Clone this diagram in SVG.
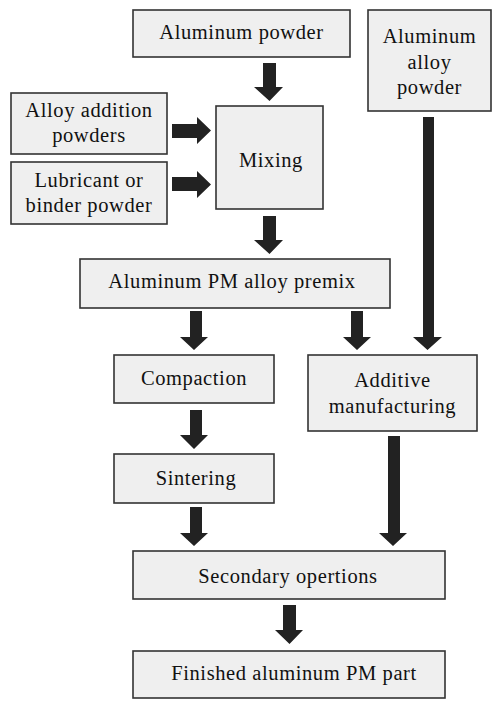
<svg xmlns="http://www.w3.org/2000/svg" width="504" height="706" viewBox="0 0 504 706">
<style>
.box{fill:#efefef;stroke:#333;stroke-width:1.6}
.t{font-family:"Liberation Serif","Times New Roman",serif;font-size:20.5px;letter-spacing:0.6px;fill:#111;text-anchor:middle}
.arr{fill:#222}
</style>
<rect width="504" height="706" fill="#fff"/>
<g id="n-al-powder"><rect class="box" x="133" y="10" width="217" height="47"/><text class="t" x="241.5" y="38.5">Aluminum powder</text></g>
<g id="n-al-alloy-powder"><rect class="box" x="368" y="10" width="123" height="101"/><text class="t" x="429.5" y="43">Aluminum</text><text class="t" x="429.5" y="68.5">alloy</text><text class="t" x="429.5" y="94">powder</text></g>
<g id="n-alloy-addition"><rect class="box" x="11" y="93" width="156" height="61"/><text class="t" x="89" y="117">Alloy addition</text><text class="t" x="89" y="142">powders</text></g>
<g id="n-lubricant"><rect class="box" x="11" y="162" width="156" height="62"/><text class="t" x="89" y="187">Lubricant or</text><text class="t" x="89" y="212">binder powder</text></g>
<g id="n-mixing"><rect class="box" x="216" y="106" width="107" height="103"/><text class="t" x="271" y="167">Mixing</text></g>
<g id="n-premix"><rect class="box" x="80" y="259" width="310" height="49"/><text class="t" x="232" y="288">Aluminum PM alloy premix</text></g>
<g id="n-compaction"><rect class="box" x="114" y="355" width="160" height="48"/><text class="t" x="194" y="385">Compaction</text></g>
<g id="n-additive"><rect class="box" x="308" y="355" width="169" height="76"/><text class="t" x="392.5" y="387">Additive</text><text class="t" x="392.5" y="413">manufacturing</text></g>
<g id="n-sintering"><rect class="box" x="114" y="454" width="160" height="49"/><text class="t" x="196" y="485">Sintering</text></g>
<g id="n-secondary"><rect class="box" x="133" y="551" width="312" height="48"/><text class="t" x="288" y="583">Secondary opertions</text></g>
<g id="n-finished"><rect class="box" x="133" y="651" width="312" height="47"/><text class="t" x="294" y="680">Finished aluminum PM part</text></g>
<g id="connectors">
<polygon class="arr" points="263,63 276,63 276,87 283,87 269.5,101 254,87 263,87"/>
<polygon class="arr" points="172,124 197,124 197,117 211,130.5 197,144 197,138 172,138"/>
<polygon class="arr" points="172,177 197,177 197,171 211,184.5 197,198 197,191 172,191"/>
<polygon class="arr" points="263,216 276,216 276,240 283,240 269.5,254 254,240 263,240"/>
<polygon class="arr" points="190,311 202,311 202,337 208,337 194,350 180,337 190,337"/>
<polygon class="arr" points="351,311 363,311 363,337 371,337 357,350 343,337 351,337"/>
<polygon class="arr" points="423,117 434,117 434,337 442,337 427.5,350 413,337 423,337"/>
<polygon class="arr" points="190,410 202,410 202,435 208,435 194,449 180,435 190,435"/>
<polygon class="arr" points="190,507 202,507 202,533 208,533 194,546 180,533 190,533"/>
<polygon class="arr" points="388,436 400,436 400,533 407,533 393,546 379,533 388,533"/>
<polygon class="arr" points="283,605 296,605 296,630 303,630 289.5,644 275,630 283,630"/>
</g>
</svg>
